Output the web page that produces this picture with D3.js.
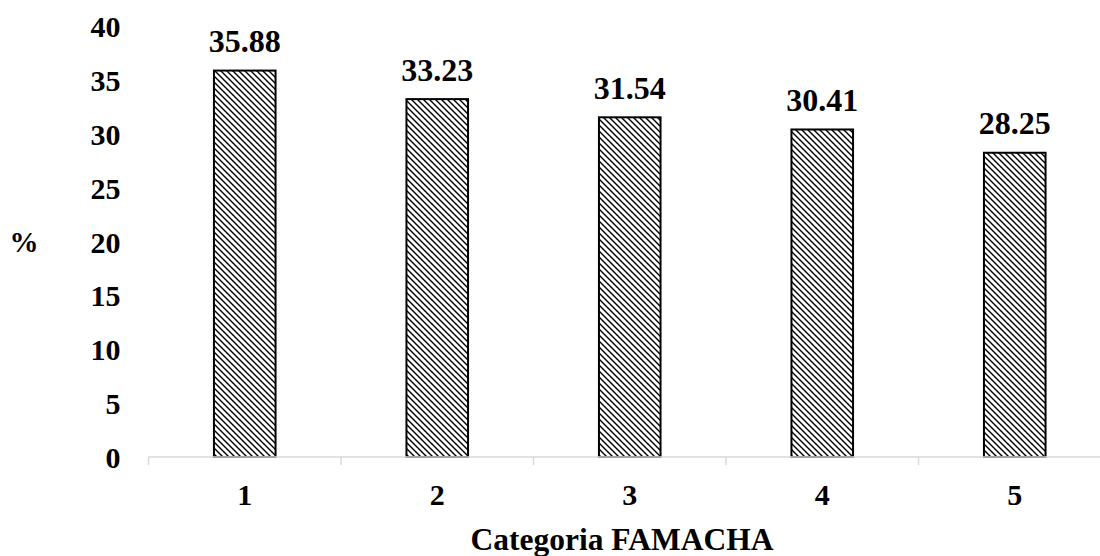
<!DOCTYPE html>
<html><head><meta charset="utf-8">
<script src="https://cdn.jsdelivr.net/npm/d3@7"></script>
<style>
body{margin:0;background:#fff;}
svg{display:block;font-family:"Liberation Serif","Times New Roman",serif;font-weight:bold;}
</style></head>
<body><svg id="c" width="1100" height="556"></svg>
<script>
const categories = ["1","2","3","4","5"];
const values = [35.88, 33.23, 31.54, 30.41, 28.25];
const yTicks = [0,5,10,15,20,25,30,35,40];
const xTitle = "Categoria FAMACHA";
const yTitle = "%";

const svg = d3.select("#c");
const x0 = 148.5, x1 = 1111, yBase = 457, yTop = 26.2;

const defs = svg.append("defs");
const pat = defs.append("pattern").attr("id","hatch").attr("patternUnits","userSpaceOnUse")
  .attr("width",6).attr("height",6);
pat.append("rect").attr("width",6).attr("height",6).attr("fill","#fff");
pat.append("path").attr("d","M-1,-1 L7,7 M-1,5 L1,7 M5,-1 L7,1").attr("stroke","#000").attr("stroke-width",1.4);

const x = d3.scaleBand().domain(categories).range([x0,x1]).paddingInner(0.68).paddingOuter(0.34);
const y = d3.scaleLinear().domain([0,40]).range([yBase,yTop]);

// bars
svg.append("g").selectAll("rect").data(values).join("rect")
  .attr("x",(d,i)=>x(categories[i]))
  .attr("y",d=>y(d))
  .attr("width",x.bandwidth())
  .attr("height",d=>yBase-y(d))
  .attr("fill","url(#hatch)")
  .attr("stroke","#000").attr("stroke-width",2);

// x axis line + ticks
const xb = d3.scaleBand().domain(categories).range([x0,x1]);
const ax = svg.append("g");
ax.append("line").attr("x1",x0).attr("x2",x1).attr("y1",yBase).attr("y2",yBase)
  .attr("stroke","#d9d9d9").attr("stroke-width",1.5);
const bounds = categories.map(c=>xb(c)).concat([x1]);
ax.selectAll("line.t").data(bounds).join("line").attr("class","t")
  .attr("x1",d=>d).attr("x2",d=>d).attr("y1",yBase).attr("y2",yBase+8)
  .attr("stroke","#d9d9d9").attr("stroke-width",1.5);

// x labels
svg.append("g").selectAll("text").data(categories).join("text")
  .attr("x",d=>x(d)+x.bandwidth()/2).attr("y",505)
  .attr("text-anchor","middle").attr("font-size",30).attr("fill","#000").text(d=>d);

// y labels
svg.append("g").selectAll("text").data(yTicks).join("text")
  .attr("x",120.5).attr("y",d=>y(d)+11)
  .attr("text-anchor","end").attr("font-size",30).attr("fill","#000").text(d=>d);

// data labels
svg.append("g").selectAll("text").data(values).join("text")
  .attr("x",(d,i)=>x(categories[i])+x.bandwidth()/2).attr("y",d=>y(d)-18.4)
  .attr("text-anchor","middle").attr("font-size",32).attr("fill","#000").text(d=>d.toFixed(2));

// titles
svg.append("text").attr("x",622).attr("y",550).attr("text-anchor","middle")
  .attr("font-size",31.5).attr("fill","#000").text(xTitle);
svg.append("text").attr("x",24).attr("y",252).attr("text-anchor","middle")
  .attr("font-size",29).attr("fill","#000").text(yTitle);
</script></body></html>
